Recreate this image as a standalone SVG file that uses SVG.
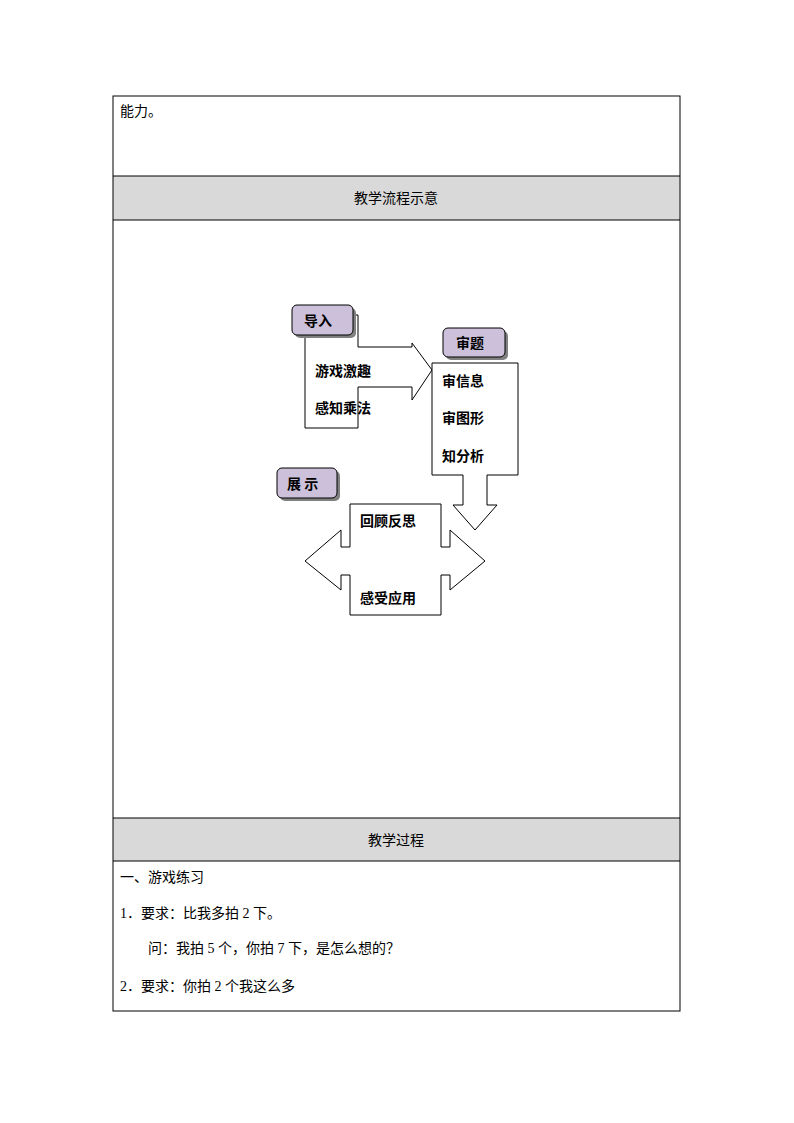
<svg xmlns="http://www.w3.org/2000/svg" width="794" height="1123" viewBox="0 0 794 1123">
<defs>
<style>
.t{font-family:"Liberation Serif","Noto Sans CJK SC",serif;font-size:14px;fill:#000}
.b{font-family:"Noto Sans CJK SC",sans-serif;font-size:14px;font-weight:bold;fill:#000}
.s{fill:#fff;stroke:#000;stroke-width:1}
.lab{fill:#ccc0da;stroke:#000;stroke-width:1}
.sh{fill:#808080}
.ln{stroke:#000;stroke-width:1;fill:none}
</style>
</defs>
<rect width="794" height="1123" fill="#fff"/>
<g id="table">
<rect x="113" y="176" width="567" height="44" fill="#d9d9d9"/>
<rect x="113" y="818" width="567" height="43" fill="#d9d9d9"/>
<rect class="ln" x="113" y="96" width="567" height="915"/>
<line class="ln" x1="113" y1="176" x2="680" y2="176"/>
<line class="ln" x1="113" y1="220" x2="680" y2="220"/>
<line class="ln" x1="113" y1="818" x2="680" y2="818"/>
<line class="ln" x1="113" y1="861" x2="680" y2="861"/>
<text class="t" x="120" y="116">能力。</text>
<text class="t" x="396" y="203" text-anchor="middle">教学流程示意</text>
<text class="t" x="396" y="845" text-anchor="middle">教学过程</text>
<text class="t" x="120" y="882">一、游戏练习</text>
<text class="t" x="120" y="918">1．要求：比我多拍 2 下。</text>
<text class="t" x="148" y="953">问：我拍 5 个，你拍 7 下，是怎么想的？</text>
<text class="t" x="120" y="991">2．要求：你拍 2 个我这么多</text>
</g>
<g id="connectors"></g>
<g id="intro">
<path class="s" d="M305,315 H358 V347 H412 V343 L432,370 L412,400 V387 H358 V428 H305 Z"/>
<rect class="sh" x="295" y="308" width="61" height="30" rx="5"/>
<rect class="lab" x="292" y="305" width="61" height="30" rx="5"/>
<text class="b" x="304" y="326">导入</text>
<text class="b" x="315" y="376">游戏激趣</text>
<text class="b" x="315" y="413">感知乘法</text>
</g>
<g id="review">
<path class="s" d="M432,363 H518 V475 H487 V505 H497 L475,530 L453,505 H463 V475 H432 Z"/>
<rect class="sh" x="446" y="331" width="62" height="29" rx="5"/>
<rect class="lab" x="443" y="328" width="62" height="29" rx="5"/>
<text class="b" x="456" y="348">审题</text>
<text class="b" x="442" y="386">审信息</text>
<text class="b" x="442" y="423">审图形</text>
<text class="b" x="442" y="461">知分析</text>
</g>
<g id="show">
<path class="s" d="M350,504 H441 V547 H450 V530 L485,561 L450,590 V575 H441 V615 H350 V575 H341 V590 L305,561 L341,530 V547 H350 Z"/>
<rect class="sh" x="280" y="471" width="60" height="30" rx="5"/>
<rect class="lab" x="277" y="468" width="60" height="30" rx="5"/>
<text class="b" x="287" y="489">展 示</text>
<text class="b" x="360" y="526">回顾反思</text>
<text class="b" x="360" y="603">感受应用</text>
</g>
</svg>
